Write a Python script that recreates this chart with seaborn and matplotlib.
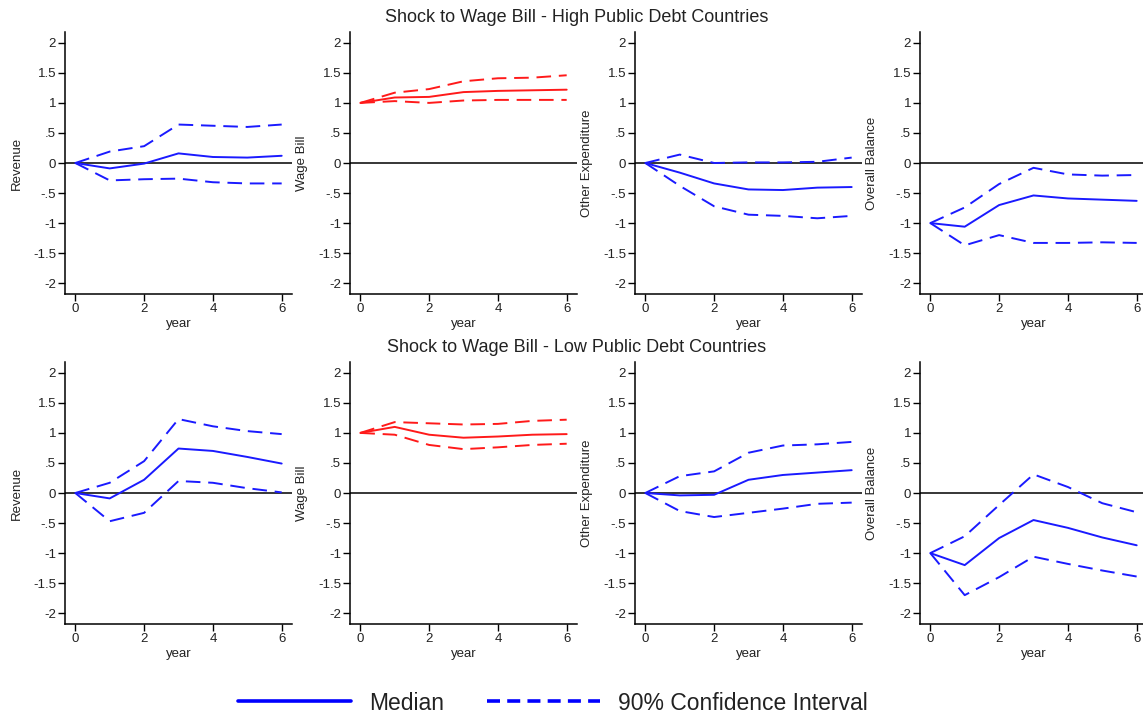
import numpy as np
import pandas as pd
import matplotlib
matplotlib.use("Agg")
import matplotlib.pyplot as plt
from matplotlib.lines import Line2D
from matplotlib.ticker import FixedLocator, FuncFormatter
import seaborn as sns

# Impulse responses to a wage bill shock, years 0-6
years = [0, 1, 2, 3, 4, 5, 6]

variables = ["Revenue", "Wage Bill", "Other Expenditure", "Overall Balance"]
row_titles = ["Shock to Wage Bill - High Public Debt Countries",
              "Shock to Wage Bill - Low Public Debt Countries"]

# High public debt countries
high_revenue_med = [0, -0.09, -0.01, 0.16, 0.10, 0.09, 0.12]
high_revenue_hi = [0, 0.19, 0.28, 0.64, 0.62, 0.60, 0.64]
high_revenue_lo = [0, -0.29, -0.27, -0.26, -0.32, -0.34, -0.34]

high_wage_med = [1.0, 1.09, 1.10, 1.18, 1.20, 1.21, 1.22]
high_wage_hi = [1.0, 1.17, 1.23, 1.36, 1.41, 1.42, 1.46]
high_wage_lo = [1.0, 1.03, 1.00, 1.04, 1.05, 1.05, 1.05]

high_other_med = [0, -0.16, -0.34, -0.44, -0.45, -0.41, -0.40]
high_other_hi = [0, 0.14, 0.00, 0.01, 0.01, 0.02, 0.09]
high_other_lo = [0, -0.38, -0.72, -0.86, -0.88, -0.92, -0.88]

high_balance_med = [-1.0, -1.06, -0.70, -0.54, -0.59, -0.61, -0.63]
high_balance_hi = [-1.0, -0.74, -0.35, -0.08, -0.19, -0.21, -0.20]
high_balance_lo = [-1.0, -1.37, -1.20, -1.33, -1.33, -1.32, -1.33]

# Low public debt countries
low_revenue_med = [0, -0.09, 0.22, 0.74, 0.70, 0.60, 0.49]
low_revenue_hi = [0, 0.17, 0.53, 1.23, 1.11, 1.03, 0.98]
low_revenue_lo = [0, -0.47, -0.33, 0.20, 0.17, 0.08, 0.01]

low_wage_med = [1.0, 1.10, 0.97, 0.92, 0.94, 0.97, 0.98]
low_wage_hi = [1.0, 1.18, 1.16, 1.14, 1.15, 1.20, 1.22]
low_wage_lo = [1.0, 0.97, 0.80, 0.73, 0.76, 0.80, 0.82]

low_other_med = [0, -0.04, -0.03, 0.22, 0.30, 0.34, 0.38]
low_other_hi = [0, 0.28, 0.36, 0.67, 0.79, 0.81, 0.85]
low_other_lo = [0, -0.30, -0.40, -0.33, -0.26, -0.18, -0.16]

low_balance_med = [-1.0, -1.20, -0.75, -0.45, -0.58, -0.74, -0.87]
low_balance_hi = [-1.0, -0.72, -0.20, 0.31, 0.10, -0.17, -0.32]
low_balance_lo = [-1.0, -1.70, -1.40, -1.06, -1.18, -1.29, -1.39]

panels = [
    [(high_revenue_med, high_revenue_lo, high_revenue_hi),
     (high_wage_med, high_wage_lo, high_wage_hi),
     (high_other_med, high_other_lo, high_other_hi),
     (high_balance_med, high_balance_lo, high_balance_hi)],
    [(low_revenue_med, low_revenue_lo, low_revenue_hi),
     (low_wage_med, low_wage_lo, low_wage_hi),
     (low_other_med, low_other_lo, low_other_hi),
     (low_balance_med, low_balance_lo, low_balance_hi)],
]

y_ticks = [-2, -1.5, -1, -0.5, 0, 0.5, 1, 1.5, 2]

sns.set_style("ticks")
plt.rcParams["font.family"] = ["Liberation Sans", "DejaVu Sans"]

W, H = 1143, 714
fig = plt.figure(figsize=(W / 100, H / 100), dpi=100)

BLUE = "#1a1aff"
RED = "#ff1a1a"
DASH = (0, (7.5, 4))
TEXT = "#222222"


def stata_fmt(v, _pos):
    if abs(v) < 1e-9:
        return "0"
    s = f"{v:g}"
    return s.replace("0.", ".")


col_left = [65, 350, 635, 920]
row_top = [32, 362]
ax_w, ax_h = 227, 262

for r in range(2):
    for c in range(4):
        left = col_left[c]
        top = row_top[r]
        ax = fig.add_axes([left / W, 1 - (top + ax_h) / H, ax_w / W, ax_h / H])
        med, lo, hi = panels[r][c]
        color = RED if c == 1 else BLUE
        df = pd.DataFrame({"year": years, "median": med, "lower": lo, "upper": hi})
        ax.axhline(0, color="black", lw=1.1, zorder=1)
        sns.lineplot(data=df, x="year", y="upper", ax=ax, color=color, lw=1.4,
                     linestyle=DASH, zorder=3)
        sns.lineplot(data=df, x="year", y="lower", ax=ax, color=color, lw=1.4,
                     linestyle=DASH, zorder=3)
        sns.lineplot(data=df, x="year", y="median", ax=ax, color=color, lw=1.4,
                     zorder=4)
        ax.set_xlim(-0.3, 6.3)
        ax.set_ylim(-2.18, 2.18)
        ax.xaxis.set_major_locator(FixedLocator([0, 2, 4, 6]))
        ax.yaxis.set_major_locator(FixedLocator(y_ticks))
        ax.yaxis.set_major_formatter(FuncFormatter(stata_fmt))
        ax.tick_params(axis="both", labelsize=9.5, length=5, width=1.0,
                       colors="black", labelcolor=TEXT, pad=1.5)
        ax.set_xlabel("year", fontsize=9.5, labelpad=2, color=TEXT)
        ax.set_ylabel(variables[c], fontsize=9.5, labelpad=7, color=TEXT)
        for side in ("top", "right"):
            ax.spines[side].set_visible(False)
        for side in ("left", "bottom"):
            ax.spines[side].set_linewidth(1.1)
            ax.spines[side].set_color("black")

for r, title in enumerate(row_titles):
    y = 18 if r == 0 else 347
    fig.text(577 / W, 1 - y / H, title, ha="center", va="center",
             fontsize=13, color=TEXT)

handles = [Line2D([], [], color="#0000ff", lw=2.6),
           Line2D([], [], color="#0000ff", lw=2.6, linestyle=(0, (3.6, 2.0)))]
fig.legend(handles, ["Median", "90% Confidence Interval"], loc="center",
           bbox_to_anchor=(553 / W, 1 - 703 / H), ncol=2, frameon=False,
           fontsize=16.5, handlelength=4.9, columnspacing=1.9, handletextpad=0.8,
           labelcolor=TEXT)

fig.savefig("out.png", dpi=100, facecolor="white")
